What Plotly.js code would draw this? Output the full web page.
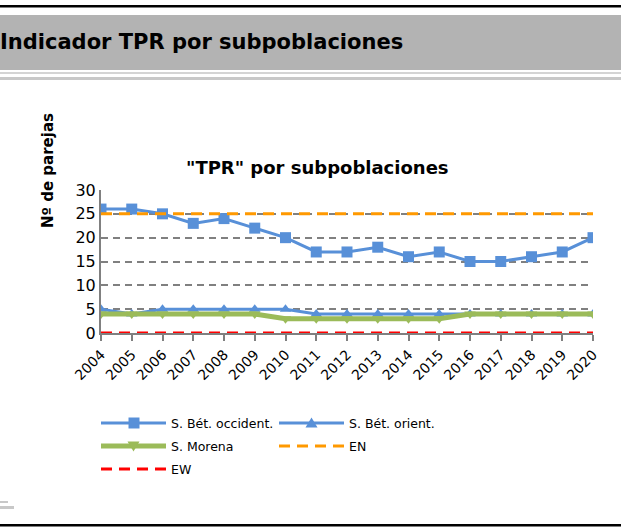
<!DOCTYPE html>
<html><head><meta charset="utf-8">
<script src="https://cdn.plot.ly/plotly-3.0.1.min.js"></script>
<style>html,body{margin:0;padding:0;background:#fff;overflow:hidden}#c{width:621px;height:529px}</style>
</head><body><div id="c"></div>
<script>
const years = [2004,2005,2006,2007,2008,2009,2010,2011,2012,2013,2014,2015,2016,2017,2018,2019,2020];
const betOccident = [26,26,25,23,24,22,20,17,17,18,16,17,15,15,16,17,20];
const betOrient = [5,4,5,5,5,5,5,4,4,4,4,4,4,4,4,4,4];
const morena = [4,4,4,4,4,4,3,3,3,3,3,3,4,4,4,4,4];
const enValues = [25,25,25,25,25,25,25,25,25,25,25,25,25,25,25,25,25];
const ewValues = [0,0,0,0,0,0,0,0,0,0,0,0,0,0,0,0,0];
const yTicks = [0,5,10,15,20,25,30];
const seriesNames = ["S. Bét. occident.", "S. Bét. orient.", "S. Morena", "EN", "EW"];

const FONT = "DejaVu Sans, Verdana, sans-serif";
const blue = "#5890d8", green = "#9bbb59", orange = "#ff9900", red = "#ff0000";
const DASH = "11px,7px";

// plot area in pixels
const L = 101, R = 593, T = 190, B = 333;
const px = x => (x - L) / (R - L);
const py = y => (B - y) / (B - T);

const traces = [
  {x: years, y: betOccident, name: seriesNames[0], mode: "lines+markers",
   line: {color: blue, width: 3}, marker: {symbol: "square", size: 11, color: blue}},
  {x: years, y: betOrient, name: seriesNames[1], mode: "lines+markers",
   line: {color: blue, width: 3}, marker: {symbol: "triangle-up", size: 10, color: blue}},
  {x: years, y: morena, name: seriesNames[2], mode: "lines+markers",
   line: {color: green, width: 5}, marker: {symbol: "triangle-down", size: 10, color: green}},
  {x: years, y: enValues, name: seriesNames[3], mode: "lines",
   line: {color: orange, width: 3, dash: DASH}},
  {x: years, y: ewValues, name: seriesNames[4], mode: "lines",
   line: {color: red, width: 3, dash: DASH}}
];

// horizontal band drawn as a thick line (butt caps)
function hband(y0, y1, color, x0, x1) {
  const yc = (y0 + y1) / 2;
  return {type: "line", xref: "paper", yref: "paper",
    x0: px(x0 === undefined ? 0 : x0), x1: px(x1 === undefined ? 621 : x1), y0: py(yc), y1: py(yc),
    line: {color: color, width: y1 - y0}, layer: "below"};
}
function lineSample(x0, y, color, width, dash) {
  return {type: "line", xref: "paper", yref: "paper", x0: px(x0), x1: px(x0 + 65), y0: py(y), y1: py(y),
    line: {color: color, width: width, dash: dash || "solid"}};
}
function pathShape(pts, color) {
  const d = pts.map((p, i) => (i ? "L" : "M") + px(p[0]) + "," + py(p[1])).join(" ") + " Z";
  return {type: "path", xref: "paper", yref: "paper", path: d, fillcolor: color,
    line: {width: 0, color: "rgba(0,0,0,0)"}};
}

const c1 = 101, c2 = 279, r1 = 423, r2 = 446, r3 = 469;
const legendShapes = [
  lineSample(c1, r1, blue, 3),
  pathShape([[c1+27.5, r1-5.5],[c1+38.5, r1-5.5],[c1+38.5, r1+5.5],[c1+27.5, r1+5.5]], blue),
  lineSample(c2, r1, blue, 3),
  pathShape([[c2+26.5, r1+4.5],[c2+38.5, r1+4.5],[c2+32.5, r1-5.5]], blue),
  lineSample(c1, r2, green, 5),
  pathShape([[c1+26.5, r2-4.5],[c1+38.5, r2-4.5],[c1+32.5, r2+5.5]], green),
  lineSample(c2, r2, orange, 3, DASH),
  lineSample(c1, r3, red, 3, DASH)
];
const legendText = [[c1, r1, 0], [c2, r1, 1], [c1, r2, 2], [c2, r2, 3], [c1, r3, 4]].map(a => ({
  text: seriesNames[a[2]], xref: "paper", yref: "paper", x: px(a[0] + 68), y: py(a[1]),
  xanchor: "left", yanchor: "middle", showarrow: false,
  font: {family: FONT, size: 12.5, color: "#000"}
}));

const layout = {
  width: 621, height: 529,
  margin: {l: L, r: 621 - R, t: T, b: 529 - B, autoexpand: false},
  paper_bgcolor: "#fff", plot_bgcolor: "#fff",
  font: {family: FONT, size: 14, color: "#000"},
  showlegend: false,
  xaxis: {range: [2004, 2020], tickvals: years, ticktext: years.map(String), tickangle: -45,
    automargin: false,
    showgrid: false, zeroline: false, showline: true, linecolor: "#808080", linewidth: 2,
    ticks: "outside", ticklen: 6, tickwidth: 2, tickcolor: "#808080",
    tickfont: {family: FONT, size: 14, color: "#000"}},
  yaxis: {range: [0, 30], tickvals: yTicks, automargin: false,
    showgrid: true, gridcolor: "#808080", griddash: "7px,5px",
    gridwidth: 2, zeroline: false, showline: true, linecolor: "#808080", linewidth: 2,
    ticks: "", tickfont: {family: FONT, size: 16, color: "#000"}},
  shapes: [
    hband(15, 70, "#b3b3b3"),
    hband(72, 74, "#d4d4d4"),
    hband(77, 80, "#c8c8c8"),
    hband(5, 7.5, "#000"),
    hband(524, 526.5, "#000"),
    hband(501, 503, "#c8c8c8", 0, 8),
    hband(506, 509, "#c8c8c8", 0, 14)
  ].concat(legendShapes),
  annotations: [
    {text: "<b>Indicador TPR por subpoblaciones</b>", xref: "paper", yref: "paper",
     x: px(-2), y: py(42), xanchor: "left", yanchor: "middle", showarrow: false,
     font: {family: FONT, size: 21, color: "#000"}},
    {text: "<b>\"TPR\" por subpoblaciones</b>", xref: "paper", yref: "paper",
     x: px(317), y: py(167), xanchor: "center", yanchor: "middle", showarrow: false,
     font: {family: FONT, size: 18, color: "#000"}},
    {text: "<b>Nº de parejas</b>", xref: "paper", yref: "paper", textangle: -90,
     x: px(48), y: py(171), xanchor: "center", yanchor: "middle", showarrow: false,
     font: {family: FONT, size: 15, color: "#000"}}
  ].concat(legendText)
};

Plotly.newPlot("c", traces, layout, {displayModeBar: false, staticPlot: true});
</script></body></html>
